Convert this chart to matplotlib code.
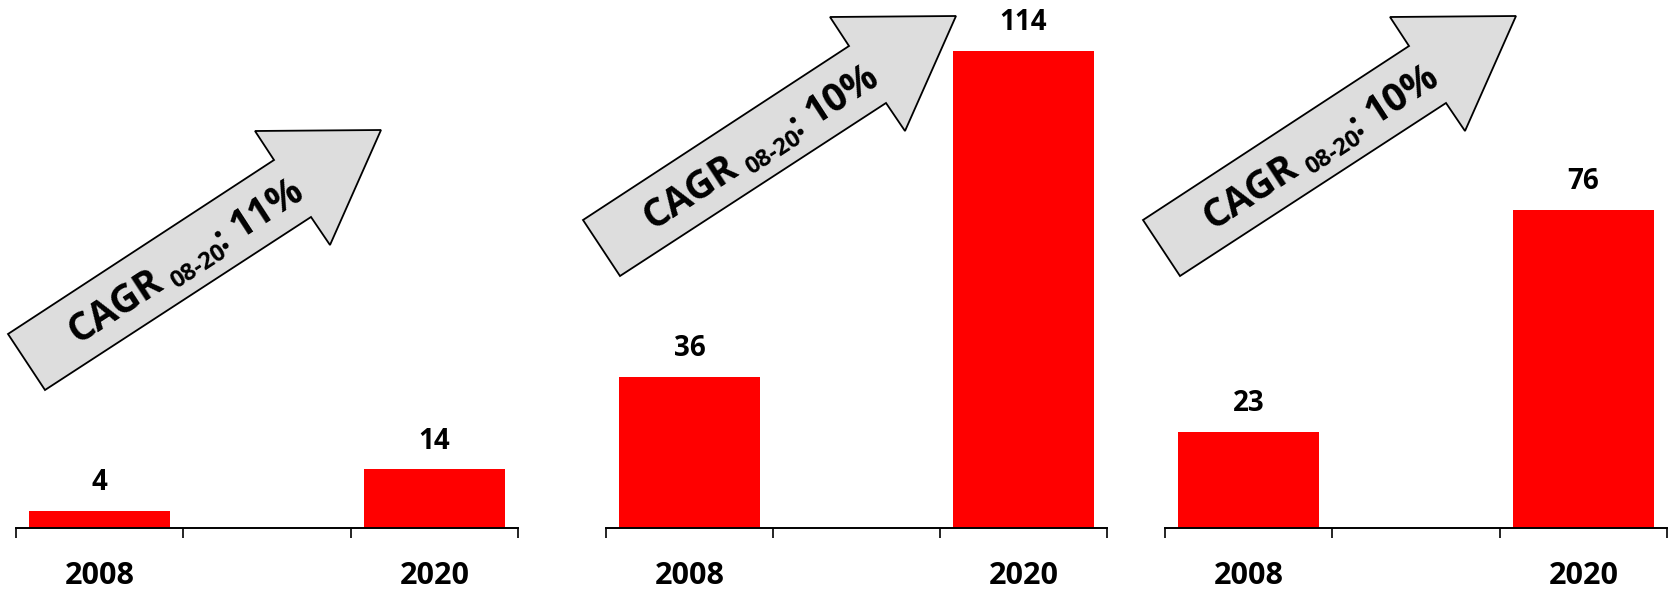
import numpy as np
import matplotlib
matplotlib.use("Agg")
import matplotlib.pyplot as plt
from matplotlib.patches import Polygon
from matplotlib.textpath import TextPath
from matplotlib.font_manager import FontProperties

plt.rcParams['font.family'] = ['Open Sans', 'DejaVu Sans']

''' DATA '''
years = ["2008", "2020"]
year_pos = [0, 2]          # middle slot stays empty
values_1 = [4, 14]
values_2 = [36, 114]
values_3 = [23, 76]
cagr = ["11%", "10%", "10%"]
cagr_period = "08-20"

W, H, DPI = 1671, 590, 100
RED = "#ff0000"
GREY = "#dddddd"
Y_TOP = 126.2

# panel boxes in pixels (left, right), baseline at 528 px from top
panels = [(16, 518), (606, 1107), (1165, 1667)]
base_px = 528

# arrow outline relative to the tail's upper corner, pixels (y down)
arrow_shape = [(0, 0), (37, 56), (303, -117), (322, -89), (373, -204), (247, -203), (266, -174)]
arrow_origin = [(8, 334), (583, 220), (1143, 220)]


def bold_width(s, size):
    fp = FontProperties(family='Open Sans', weight='bold')
    return TextPath((0, 0), s, size=size, prop=fp).get_extents().width * DPI / 72


def cagr_label(ax, x0, y0, rate, angle=33):
    th = np.deg2rad(angle)
    u = np.array([np.cos(th), -np.sin(th)])
    n = np.array([np.sin(th), np.cos(th)])
    pieces = [("CAGR", 28, 0, 10), (cagr_period, 17, 7, 1), (":", 26, 0, 13), (rate, 28, 0, 0)]
    pos = np.array([x0, y0], dtype=float)
    for s, size, drop, gap in pieces:
        p = pos + n * drop
        ax.text(p[0], p[1], s, fontsize=size, fontweight='bold', rotation=angle,
                rotation_mode='anchor', ha='left', va='baseline')
        pos = pos + u * (bold_width(s, size) + gap)


fig = plt.figure(figsize=(W / DPI, H / DPI), dpi=DPI)

for (left, right), vals in zip(panels, [values_1, values_2, values_3]):
    ax = fig.add_axes([left / W, (H - base_px) / H, (right - left) / W, base_px / H])
    ax.bar(year_pos, vals, width=0.84, color=RED)
    for x, v in zip(year_pos, vals):
        ax.annotate(str(v), (x, v), xytext=(0, 10), textcoords='offset points',
                    ha='center', va='bottom', fontsize=20, fontweight='bold')
    ax.set_xlim(-0.5, 2.5)
    ax.set_ylim(0, Y_TOP)
    for s in ['top', 'right', 'left']:
        ax.spines[s].set_visible(False)
    ax.spines['bottom'].set_linewidth(1.4)
    ax.set_yticks([])
    ax.set_xticks([-0.5, 0.5, 1.5, 2.5])
    ax.set_xticklabels([])
    ax.tick_params(axis='x', which='major', direction='out', length=7.5, width=1.2)
    ax.set_xticks(year_pos, minor=True)
    ax.set_xticklabels(years, minor=True, fontsize=22, fontweight='bold')
    ax.tick_params(axis='x', which='minor', length=0, pad=24)
    ax.patch.set_visible(False)

# overlay in pixel units for the growth arrows
ov = fig.add_axes([0, 0, 1, 1])
ov.set_xlim(0, W)
ov.set_ylim(H, 0)
ov.axis('off')
ov.patch.set_visible(False)
for (ox, oy), rate in zip(arrow_origin, cagr):
    pts = [(ox + dx, oy + dy) for dx, dy in arrow_shape]
    ov.add_patch(Polygon(pts, closed=True, facecolor=GREY, edgecolor='black', linewidth=1.3))
    cagr_label(ov, ox + 70, oy + 10, rate)

fig.savefig("out.png", dpi=DPI)
